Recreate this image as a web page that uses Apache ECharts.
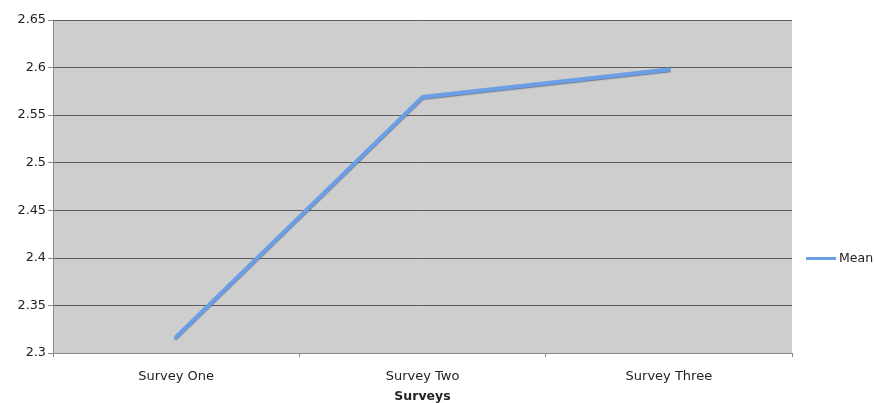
<!DOCTYPE html>
<html>
<head>
<meta charset="utf-8">
<script src="https://cdn.jsdelivr.net/npm/echarts@6/dist/echarts.min.js"></script>
<style>
  html, body { margin: 0; padding: 0; background: #fff; }
  #chart { width: 874px; height: 403px; }
</style>
</head>
<body>
<div id="chart"></div>
<script>
// Survey categories and the mean score recorded for each
const surveys = ['Survey One', 'Survey Two', 'Survey Three'];
const meanValues = [2.317, 2.569, 2.598];
const seriesName = 'Mean';
const axisTitle = 'Surveys';

const FONT = 'DejaVu Sans, Verdana, sans-serif';

const chart = echarts.init(document.getElementById('chart'), null, { renderer: 'canvas' });
chart.setOption({
  animation: false,
  backgroundColor: '#ffffff',
  grid: {
    left: 53, right: 82, top: 20, bottom: 50,
    containLabel: false,
    outerBoundsMode: 'none',
    show: true,
    backgroundColor: '#cecece',
    borderWidth: 0
  },
  legend: {
    data: [seriesName],
    left: 801, top: 247,
    padding: 5,
    orient: 'vertical',
    itemWidth: 30, itemHeight: 3, itemGap: 4,
    icon: 'rect',
    textStyle: { fontFamily: FONT, fontSize: 12.5, color: '#222', padding: [0, 0, 0, -2] }
  },
  xAxis: {
    type: 'category',
    data: surveys,
    boundaryGap: true,
    name: axisTitle,
    nameLocation: 'middle',
    nameGap: 37,
    nameTextStyle: { fontFamily: FONT, fontSize: 12.5, fontWeight: 'bold', color: '#222' },
    axisLine: { show: true, lineStyle: { color: '#8a8a8a', width: 1 } },
    axisTick: { show: true, length: 4, inside: false, lineStyle: { color: '#8a8a8a' } },
    axisLabel: { fontFamily: FONT, fontSize: 13, color: '#222', margin: 17 },
    splitLine: { show: false }
  },
  yAxis: {
    type: 'value',
    min: 2.3, max: 2.65, interval: 0.05,
    axisLine: { show: true, lineStyle: { color: '#8a8a8a', width: 1 } },
    axisTick: { show: true, length: 5, lineStyle: { color: '#8a8a8a' } },
    axisLabel: {
      fontFamily: FONT, fontSize: 12.8, color: '#222', margin: 7,
      formatter: v => String(parseFloat(v.toFixed(2)))
    },
    splitLine: { show: true, lineStyle: { color: '#5c5c5c', width: 1 } }
  },
  series: [{
    name: seriesName,
    type: 'line',
    data: meanValues,
    symbol: 'none',
    lineStyle: {
      color: '#6a9ee6', width: 4, cap: 'round', join: 'round',
      shadowColor: 'rgba(40,60,110,0.55)', shadowBlur: 1, shadowOffsetY: 1
    },
    itemStyle: { color: '#6a9ee6' }
  }]
});
</script>
</body>
</html>
